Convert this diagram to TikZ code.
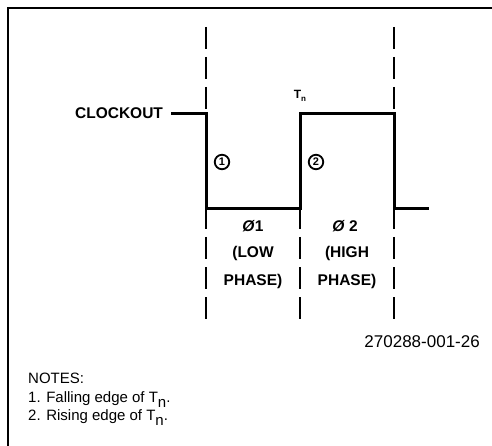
\documentclass[tikz,border=0pt]{standalone}
\usepackage{fontspec}
\setmainfont{Liberation Sans}

\begin{document}
\begin{tikzpicture}[x=1pt,y=-1pt,line cap=butt,
  sig/.style={line width=3pt,line join=miter},
  phaseline/.style={line width=1.5pt,dash pattern=on 22pt off 8pt},
  lbl/.style={font=\fontsize{15.5}{15.5}\selectfont\bfseries,inner sep=0pt,anchor=base},
  edgenum/.style={circle,draw,line width=1.8pt,inner sep=0pt,minimum size=14.5pt,
    font=\fontsize{11}{11}\selectfont\bfseries},
  note/.style={font=\fontsize{15}{18}\selectfont,inner sep=0pt,anchor=base west}]
\useasboundingbox (0,0) rectangle (492,446);
% frame
\draw[line width=1.5pt] (8,446) -- (8,8) -- (492,8);
% phase boundaries
\draw[phaseline] (206,27) -- (206,319);
\draw[phaseline] (300,207) -- (300,319);
\draw[phaseline] (394,27) -- (394,319);
% clock waveform
\coordinate (start) at (171,114);
\coordinate (fall) at (206,114);
\coordinate (lowend) at (300,209);
\coordinate (rise) at (394,114);
\coordinate (stop) at (429,209);
\draw[sig] (start) -- (fall) |- (lowend) |- (rise) |- (stop);
\node[lbl] (clk) at (119,119) {CLOCKOUT};
\node[font=\fontsize{12}{12}\selectfont\bfseries,inner sep=0pt,anchor=base] (tn) at (300,99) {T\raisebox{-3pt}{\fontsize{8}{8}\selectfont n}};
\node[edgenum] (e1) at (222,162) {1};
\node[edgenum] (e2) at (316,162) {2};
% phase labels
\node[lbl] (ph1) at (253,232) {\textit{Ø}1};
\node[lbl] (low) at (253,258) {(LOW};
\node[lbl] (lowph) at (253,285) {PHASE)};
\node[lbl] (ph2) at (345,232) {\textit{Ø} 2};
\node[lbl] (high) at (347,258) {(HIGH};
\node[lbl] (highph) at (347,285) {PHASE)};
% figure number and notes
\node[font=\fontsize{17}{17}\selectfont,inner sep=0pt,anchor=base east] (fignum) at (480,347) {270288-001-26};
\node[note] (notes) at (28,383) {NOTES:};
\node[note] (n1) at (28,402) {1. Falling edge of T\raisebox{-5pt}{n}.};
\node[note] (n2) at (28,420) {2. Rising edge of T\raisebox{-5pt}{n}.};
\end{tikzpicture}
\end{document}
